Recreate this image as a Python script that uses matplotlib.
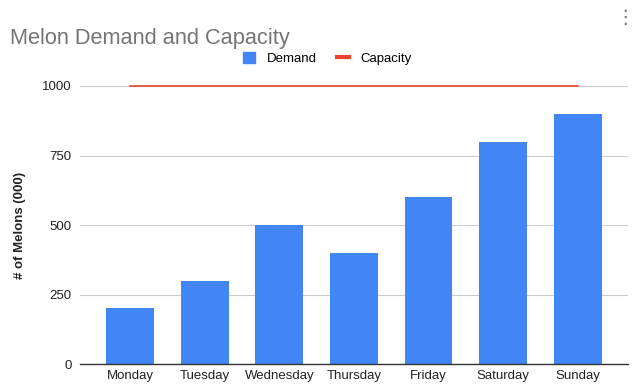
import matplotlib.pyplot as plt
from matplotlib.lines import Line2D
from matplotlib.patches import Patch

plt.rcParams['font.family'] = ['Liberation Sans', 'DejaVu Sans']

days = ["Monday", "Tuesday", "Wednesday", "Thursday", "Friday", "Saturday", "Sunday"]
demand = [200, 300, 500, 400, 600, 800, 900]
capacity = [1000, 1000, 1000, 1000, 1000, 1000, 1000]
yticks = [0, 250, 500, 750, 1000]

fig = plt.figure(figsize=(6.36, 3.89), dpi=100)
ax = fig.add_axes([0.126, 0.064, 0.861, 0.715])

x = list(range(len(days)))
ax.bar(x, demand, width=0.64, color="#4285F4", zorder=2)
ax.plot(x, capacity, color="#EA4335", lw=1.2, zorder=3, clip_on=False)

ax.set_xlim(-0.67, len(days) - 0.33)
ax.set_ylim(0, 1000)
ax.set_yticks(yticks)
ax.set_xticks(x)
ax.set_xticklabels(days)
ax.tick_params(axis="both", length=0, labelsize=9.5, colors="#222222")
ax.tick_params(axis="y", pad=6)
ax.tick_params(axis="x", pad=4)
ax.grid(axis="y", color="#cccccc", lw=0.8, zorder=0)
for s in ["top", "right", "left"]:
    ax.spines[s].set_visible(False)
ax.spines["bottom"].set_color("#333333")
ax.spines["bottom"].set_linewidth(1.0)
ax.spines["bottom"].set_zorder(4)

ax.set_ylabel("# of Melons (000)", fontsize=9.5, fontweight="bold", color="#222222", labelpad=12)

fig.text(0.016, 0.9, "Melon Demand and Capacity", fontsize=15.7, color="#757575", va="center")
fig.text(0.982, 0.975, "\u22ee", fontsize=14, color="#757575", ha="center", va="top")

handles = [Patch(color="#4285F4"), Line2D([0], [0], color="#EA4335", lw=3)]
fig.legend(handles, ["Demand", "Capacity"], loc="center", bbox_to_anchor=(0.515, 0.85),
           ncol=2, frameon=False, fontsize=9.5, handlelength=0.9, handleheight=1.0,
           columnspacing=1.5, handletextpad=0.9)

fig.savefig("out.png", dpi=100)
